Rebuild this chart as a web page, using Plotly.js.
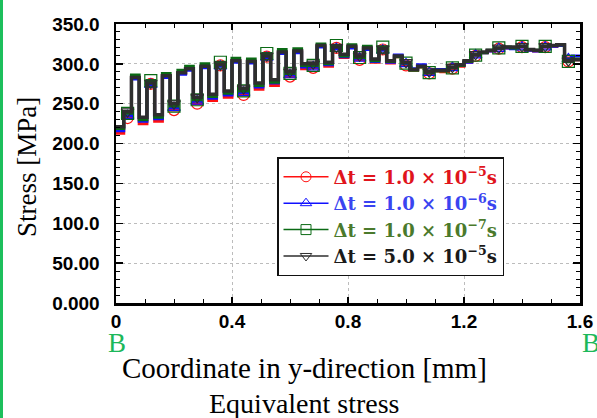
<!DOCTYPE html>
<html><head><meta charset="utf-8">
<script src="https://cdn.plot.ly/plotly-3.0.1.min.js"></script>
<style>
html,body{margin:0;padding:0;background:#fff;}
#wrap{position:relative;width:597px;height:418px;overflow:hidden;}
#chart{width:597px;height:418px;}
#edge{position:absolute;left:0;top:0;width:3px;height:418px;background:#1cbf5c;}
</style>
</head><body>
<div id="wrap"><div id="chart"></div><div id="edge"></div></div>
<script>
// ---- data ----
const xMax = 1.6;
const elementCount = 60;
const seriesLabels = [
  'Δt = 1.0 × 10<sup>−5</sup>s',
  'Δt = 1.0 × 10<sup>−6</sup>s',
  'Δt = 1.0 × 10<sup>−7</sup>s',
  'Δt = 5.0 × 10<sup>−5</sup>s'
];
const stressDt1e5 = [213,232,282,225,275,228,284,242,288,293,250,296,254,298,258,303,261,302,268,309,273,314,284,315,294,295,322,297,320,308,321,305,319,302,318,301,309,298,292,296,288,291,290,294,297,302,310,314,316,319,320,320,321,317,316,321,322,323,303,305];
const stressDt1e6 = [216,235,281,228,274,231,283,245,287,292,253,295,257,297,261,302,264,301,271,308,276,313,286,314,296,296,321,299,319,309,320,307,318,303,317,302,311,300,294,299,289,293,293,295,298,302,311,314,316,319,320,319,321,317,316,321,322,323,306,310];
const stressDt1e7 = [219,238,286,230,279,233,288,247,292,297,255,300,259,302,263,307,266,306,273,313,277,318,288,319,298,298,325,300,323,310,324,308,322,304,321,303,309,301,292,296,289,291,291,295,298,303,311,314,317,320,321,320,322,318,317,322,323,324,303,306];
const stressDt5e5 = [221,240,283,233,276,236,285,250,289,294,258,297,262,299,266,304,269,303,276,310,280,315,290,316,300,300,323,302,321,312,322,310,320,306,319,304,310,302,293,297,290,292,292,296,299,304,312,315,317,320,321,321,322,318,317,322,323,324,304,305];
const markerElements = [1,4,7,10,13,16,19,22,25,28,31,34,37,40,43,46,49,52,55,58];
const yTickVals = [0,50,100,150,200,250,300,350];
const yTickText = ['0.000','50.00','100.0','150.0','200.0','250.0','300.0','350.0'];
const xTickVals = [0,0.4,0.8,1.2,1.6];
const xTickText = ['0','0.4','0.8','1.2','1.6'];

// ---- build ----
const w = xMax / elementCount;
const centers = Array.from({length: elementCount}, (_, i) => (i + 0.5) * w);
const stepX = [0, ...centers, xMax];
const stepY = v => [v[0], ...v, v[v.length - 1]];

const styles = [
  {data: stressDt1e5, color: '#ff1010', lw: 3, sym: 'circle-open', ms: 11, legendColor: '#e0141c'},
  {data: stressDt1e6, color: '#1010ff', lw: 3, sym: 'triangle-up-open', ms: 11, legendColor: '#3a44f0'},
  {data: stressDt1e7, color: '#0a6a14', lw: 3, sym: 'square-open', ms: 12, legendColor: '#4b7a2c'},
  {data: stressDt5e5, color: '#2e2e2e', lw: 3.5, sym: 'triangle-down-open', ms: 11, legendColor: '#1a1a1a'}
];

const traces = [];
styles.forEach((s, k) => {
  traces.push({
    x: [null], y: [null], mode: 'lines+markers',
    name: '<span style="color:' + s.legendColor + '"><b>' + seriesLabels[k] + '</b></span>',
    line: {color: s.color, width: 1.5},
    marker: {symbol: s.sym, size: 10, color: s.color, line: {width: 1, color: s.color}},
    legendgroup: 'g' + k, showlegend: true, hoverinfo: 'skip'
  });
});
styles.forEach((s, k) => {
  traces.push({
    x: stepX, y: stepY(s.data), mode: 'lines', line: {shape: 'hvh', color: s.color, width: s.lw},
    showlegend: false, legendgroup: 'g' + k, hoverinfo: 'skip'
  });
  traces.push({
    x: markerElements.map(i => centers[i]), y: markerElements.map(i => s.data[i]),
    mode: 'markers', showlegend: false, legendgroup: 'g' + k,
    marker: {symbol: s.sym, size: s.ms, color: s.color, line: {width: 1.2, color: s.color}},
    hoverinfo: 'skip'
  });
});

const tickFont = {family: 'Liberation Sans, Arial, sans-serif', size: 19, color: '#000', weight: 'bold'};
const serif = 'Liberation Serif, Times New Roman, serif';

const layout = {
  width: 597, height: 418,
  margin: {l: 116, r: 17, t: 24, b: 115},
  paper_bgcolor: '#fff', plot_bgcolor: '#fff',
  showlegend: true,
  legend: {
    x: 0.347, y: 0.523, xanchor: 'left', yanchor: 'top',
    bgcolor: '#fff', bordercolor: '#111', borderwidth: 1.5,
    font: {family: 'DejaVu Serif, serif', size: 18, color: '#000'},
    itemwidth: 45, tracegroupgap: 0, traceorder: 'normal'
  },
  xaxis: {
    range: [0, xMax], tickmode: 'array', tickvals: xTickVals, ticktext: xTickText,
    ticks: 'inside', ticklen: 6, tickwidth: 1.5, tickcolor: '#000',
    showline: true, linewidth: 2.5, linecolor: '#000', mirror: 'allticks',
    showgrid: true, gridcolor: '#bcbcbc', griddash: 'dot', gridwidth: 1, zeroline: false,
    tickfont: tickFont,
    minor: {tickmode: 'linear', tick0: 0, dtick: 0.1, ticks: 'inside', ticklen: 4, tickwidth: 1, tickcolor: '#000', showgrid: false}
  },
  yaxis: {
    range: [0, 350], tickmode: 'array', tickvals: yTickVals, ticktext: yTickText,
    ticks: 'inside', ticklen: 7, tickwidth: 1.5, tickcolor: '#000',
    showline: true, linewidth: 2.5, linecolor: '#000', mirror: 'allticks',
    showgrid: true, gridcolor: '#bcbcbc', griddash: 'dot', gridwidth: 1, zeroline: false,
    tickfont: tickFont, ticklabelstandoff: 10,
    minor: {tickmode: 'linear', tick0: 0, dtick: 10, ticks: 'inside', ticklen: 4, tickwidth: 1, tickcolor: '#000', showgrid: false}
  },
  annotations: [
    {text: 'Coordinate in y-direction [mm]', xref: 'paper', yref: 'paper', x: 0.407, y: -0.233,
     xanchor: 'center', yanchor: 'middle', showarrow: false, font: {family: serif, size: 29, color: '#000'}},
    {text: 'Equivalent stress', xref: 'paper', yref: 'paper', x: 0.407, y: -0.362,
     xanchor: 'center', yanchor: 'middle', showarrow: false, font: {family: serif, size: 28, color: '#000'}},
    {text: 'Stress [MPa]', xref: 'paper', yref: 'paper', x: -0.192, y: 0.487, textangle: -90,
     xanchor: 'center', yanchor: 'middle', showarrow: false, font: {family: serif, size: 27, color: '#000'}},
    {text: 'B', xref: 'paper', yref: 'paper', x: 0.002, y: -0.145,
     xanchor: 'center', yanchor: 'middle', showarrow: false, font: {family: serif, size: 27, color: '#1cb85a'}},
    {text: 'B', xref: 'paper', yref: 'paper', x: 1.024, y: -0.145,
     xanchor: 'center', yanchor: 'middle', showarrow: false, font: {family: serif, size: 27, color: '#1cb85a'}}
  ]
};

Plotly.newPlot('chart', traces, layout, {displayModeBar: false, staticPlot: true});
</script>
</body></html>
